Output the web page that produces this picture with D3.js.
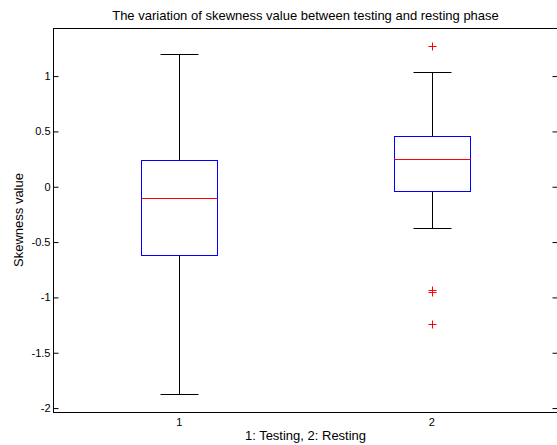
<!DOCTYPE html>
<html>
<head>
<meta charset="utf-8">
<script src="https://cdn.jsdelivr.net/npm/d3@7"></script>
<style>
  html, body { margin: 0; padding: 0; background: #fff; }
  svg { display: block; font-family: "Liberation Sans", Arial, sans-serif; }
</style>
</head>
<body>
<script>
// Group positions and labels
const groups = [1, 2];
const groupLabels = ["1", "2"];

// Box statistics per group: lower whisker, Q1, median, Q3, upper whisker
const whiskerLow  = [-1.879, -0.375];
const q1          = [-0.622, -0.044];
const median      = [-0.110,  0.242];
const q3          = [ 0.236,  0.458];
const whiskerHigh = [ 1.199,  1.032];

// Outliers: group index and value
const outlierGroup = [2, 2, 2, 2];
const outlierValue = [1.271, -0.938, -0.956, -1.242];

// Y tick values
const yTicks = [-2, -1.5, -1, -0.5, 0, 0.5, 1];

const W = 557, H = 445;
const plotL = 53, plotR = 558, plotT = 28, plotB = 412;

const svg = d3.select("body").append("svg")
  .attr("width", W).attr("height", H);

const x = d3.scaleLinear().domain([0.5, 2.5]).range([plotL, plotR]);
const y = d3.scaleLinear().domain([-2.04, 1.43]).range([plotB, plotT]);

const boxHalf = 0.15, capHalf = 0.075;
const px = v => Math.round(v) + 0.5;

// Axes frame
const frame = svg.append("g").attr("stroke", "#000").attr("stroke-width", 1).attr("fill", "none");
frame.append("line").attr("x1", plotL + 0.5).attr("x2", plotL + 0.5).attr("y1", plotT).attr("y2", plotB + 1);
frame.append("line").attr("x1", plotL).attr("x2", plotR).attr("y1", plotT + 0.5).attr("y2", plotT + 0.5);
frame.append("line").attr("x1", plotL).attr("x2", plotR).attr("y1", plotB + 0.5).attr("y2", plotB + 0.5);
frame.append("line").attr("x1", plotR - 0.5).attr("x2", plotR - 0.5).attr("y1", plotT).attr("y2", plotB + 1);

// Left axis with inward ticks
const yAxis = d3.axisLeft(y).tickValues(yTicks).tickSize(-5).tickPadding(3)
  .tickFormat(d => d3.format("")(d).replace("\u2212", "-"));
const gy = svg.append("g").attr("transform", `translate(${plotL + 0.5},0.5)`).call(yAxis);
gy.select(".domain").remove();
gy.selectAll(".tick line").attr("stroke", "#000");
gy.selectAll(".tick text").attr("font-size", 11).attr("fill", "#000")
  .attr("font-family", "Liberation Sans, Arial, sans-serif");

// Right axis: ticks only
const gr = svg.append("g").attr("transform", `translate(${plotR - 0.5},0.5)`)
  .call(d3.axisRight(y).tickValues(yTicks).tickSize(-5).tickFormat(""));
gr.select(".domain").remove();
gr.selectAll(".tick line").attr("stroke", "#000");

// Group labels below the axis
svg.append("g").selectAll("text").data(groups).join("text")
  .attr("x", d => x(d)).attr("y", 426)
  .attr("text-anchor", "middle").attr("font-size", 11).attr("fill", "#000")
  .text((d, i) => groupLabels[i]);

// Boxes
const boxes = svg.append("g");
groups.forEach((g, i) => {
  const cx = px(x(g));
  // whiskers
  boxes.append("line").attr("x1", cx).attr("x2", cx)
    .attr("y1", px(y(q3[i]))).attr("y2", px(y(whiskerHigh[i])))
    .attr("stroke", "#000");
  boxes.append("line").attr("x1", cx).attr("x2", cx)
    .attr("y1", px(y(q1[i]))).attr("y2", px(y(whiskerLow[i])))
    .attr("stroke", "#000");
  // caps
  [whiskerHigh[i], whiskerLow[i]].forEach(v => {
    boxes.append("line")
      .attr("x1", px(x(g - capHalf))).attr("x2", px(x(g + capHalf)))
      .attr("y1", px(y(v))).attr("y2", px(y(v)))
      .attr("stroke", "#000");
  });
  // box
  const bx0 = px(x(g - boxHalf)), bx1 = px(x(g + boxHalf));
  const by0 = px(y(q3[i])), by1 = px(y(q1[i]));
  boxes.append("rect").attr("x", bx0).attr("y", by0)
    .attr("width", bx1 - bx0).attr("height", by1 - by0)
    .attr("fill", "none").attr("stroke", "#0000ff");
  // median
  boxes.append("line").attr("x1", bx0).attr("x2", bx1)
    .attr("y1", px(y(median[i]))).attr("y2", px(y(median[i])))
    .attr("stroke", "#ff0000");
});

// Outlier markers (+)
const m = 4;
svg.append("g").selectAll("path").data(outlierValue).join("path")
  .attr("d", (v, i) => {
    const cx = px(x(outlierGroup[i])), cy = px(y(v));
    return `M${cx - m},${cy}H${cx + m}M${cx},${cy - m}V${cy + m}`;
  })
  .attr("stroke", "#ff0000").attr("fill", "none");

// Title and axis labels
svg.append("text").attr("x", (plotL + plotR) / 2).attr("y", 19.5)
  .attr("text-anchor", "middle").attr("font-size", 13).attr("fill", "#000")
  .text("The variation of skewness value between testing and resting phase");

svg.append("text").attr("x", (plotL + plotR) / 2).attr("y", 440)
  .attr("text-anchor", "middle").attr("font-size", 13).attr("fill", "#000")
  .text("1: Testing, 2: Resting");

svg.append("text").attr("transform", `translate(23,${(plotT + plotB) / 2}) rotate(-90)`)
  .attr("text-anchor", "middle").attr("font-size", 13).attr("fill", "#000")
  .text("Skewness value");
</script>
</body>
</html>
